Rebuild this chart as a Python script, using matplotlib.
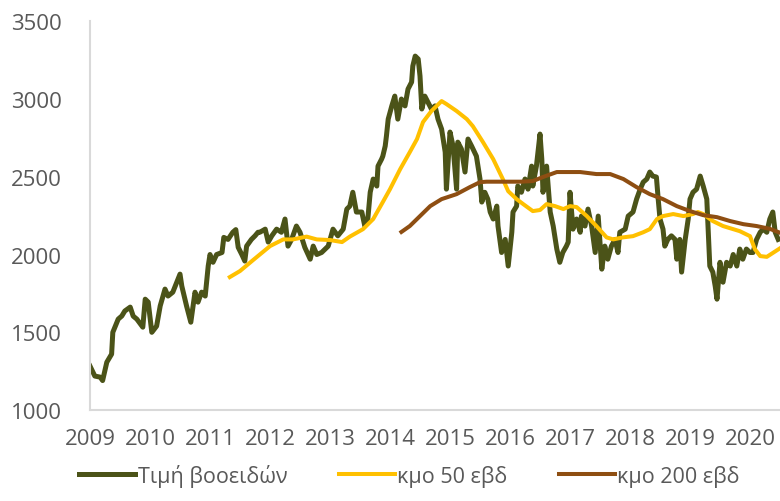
import numpy as np
import matplotlib.pyplot as plt

plt.rcParams['font.family'] = ['Open Sans', 'DejaVu Sans']

# Τιμή βοοειδών (εβδομαδιαία), χρόνος σε κλασματικά έτη
price_t = [2009.00, 2009.08, 2009.17, 2009.21, 2009.28, 2009.36, 2009.38, 2009.47, 2009.53, 2009.58,
           2009.67, 2009.72, 2009.78, 2009.88, 2009.92, 2009.97, 2010.03, 2010.11, 2010.17, 2010.25,
           2010.30, 2010.38, 2010.50, 2010.53, 2010.61, 2010.68, 2010.75, 2010.80, 2010.86, 2010.92,
           2010.97, 2011.00, 2011.05, 2011.11, 2011.20, 2011.23, 2011.30, 2011.38, 2011.43, 2011.47,
           2011.53, 2011.58, 2011.61, 2011.69, 2011.75, 2011.80, 2011.83, 2011.92, 2011.97, 2012.03,
           2012.11, 2012.19, 2012.25, 2012.30, 2012.36, 2012.44, 2012.50, 2012.58, 2012.67, 2012.72,
           2012.78, 2012.86, 2012.97, 2013.05, 2013.13, 2013.22, 2013.28, 2013.33, 2013.38, 2013.44,
           2013.53, 2013.58, 2013.63, 2013.67, 2013.72, 2013.78, 2013.80, 2013.86, 2013.88, 2013.92,
           2013.94, 2013.97, 2014.03, 2014.08, 2014.13, 2014.19, 2014.25, 2014.30, 2014.36, 2014.38,
           2014.42, 2014.47, 2014.50, 2014.53, 2014.58, 2014.63, 2014.69, 2014.75, 2014.80, 2014.86,
           2014.92, 2014.94, 2015.00, 2015.05, 2015.11, 2015.13, 2015.19, 2015.25, 2015.30, 2015.36,
           2015.44, 2015.50, 2015.53, 2015.58, 2015.63, 2015.67, 2015.72, 2015.78, 2015.80, 2015.86,
           2015.92, 2015.97, 2016.03, 2016.05, 2016.11, 2016.13, 2016.19, 2016.25, 2016.30, 2016.36,
           2016.38, 2016.44, 2016.50, 2016.53, 2016.55, 2016.61, 2016.67, 2016.72, 2016.78, 2016.83,
           2016.88, 2016.94, 2016.97, 2017.00, 2017.05, 2017.11, 2017.17, 2017.19, 2017.25, 2017.30,
           2017.36, 2017.42, 2017.47, 2017.53, 2017.58, 2017.63, 2017.69, 2017.75, 2017.80, 2017.83,
           2017.92, 2017.97, 2018.05, 2018.11, 2018.17, 2018.22, 2018.28, 2018.33, 2018.38, 2018.44,
           2018.47, 2018.50, 2018.55, 2018.58, 2018.63, 2018.69, 2018.75, 2018.78, 2018.83, 2018.86,
           2018.92, 2018.97, 2019.00, 2019.05, 2019.11, 2019.17, 2019.22, 2019.28, 2019.33, 2019.38,
           2019.42, 2019.45, 2019.50, 2019.55, 2019.61, 2019.67, 2019.72, 2019.78, 2019.83, 2019.88,
           2019.94, 2020.00, 2020.05, 2020.11, 2020.17, 2020.22, 2020.28, 2020.33, 2020.38, 2020.42,
           2020.47]
price = [1283, 1219, 1212, 1190, 1308, 1360, 1500, 1585, 1605, 1637,
         1662, 1604, 1585, 1533, 1713, 1694, 1500, 1540, 1670, 1778,
         1733, 1758, 1874, 1797, 1668, 1565, 1758, 1694, 1758, 1733,
         1926, 2000, 1950, 2000, 2013, 2110, 2097, 2143, 2160, 2046,
         2000, 1958, 2054, 2097, 2120, 2143, 2143, 2163, 2080, 2120,
         2163, 2143, 2228, 2054, 2097, 2183, 2143, 2046, 1970, 2054,
         2000, 2013, 2054, 2163, 2120, 2163, 2292, 2311, 2400, 2273,
         2273, 2183, 2228, 2400, 2485, 2440, 2568, 2613, 2632, 2697,
         2760, 2870, 2955, 3018, 2870, 2999, 2955, 3063, 3108, 3211,
         3275, 3256, 3147, 2935, 3018, 2980, 2935, 2955, 2870, 2806,
         2658, 2420, 2787, 2697, 2420, 2722, 2678, 2530, 2742, 2697,
         2632, 2485, 2337, 2400, 2356, 2273, 2228, 2311, 2183, 2013,
         2097, 1926, 2143, 2273, 2311, 2440, 2400, 2485, 2420, 2568,
         2440, 2568, 2774, 2613, 2400, 2568, 2273, 2183, 2035, 1950,
         2013, 2054, 2080, 2400, 2163, 2228, 2143, 2247, 2183, 2292,
         2183, 2013, 2247, 1906, 2054, 1970, 2054, 2097, 2013, 2143,
         2163, 2247, 2273, 2356, 2420, 2465, 2485, 2530, 2504, 2498,
         2356, 2228, 2163, 2054, 2097, 2120, 2097, 1970, 2097, 1887,
         2097, 2228, 2356, 2400, 2420, 2504, 2440, 2356, 1926, 1887,
         1797, 1713, 1950, 1822, 1950, 1926, 2000, 1926, 2035, 1970,
         2035, 2013, 2013, 2097, 2143, 2163, 2143, 2228, 2273, 2143,
         2097]

# κινητός μέσος όρος 50 εβδομάδων
ma50_t = [2011.33, 2011.50, 2011.72, 2011.83, 2012.00, 2012.22, 2012.38, 2012.61, 2012.78, 2013.00,
          2013.20, 2013.33, 2013.55, 2013.72, 2013.88, 2014.00, 2014.17, 2014.33, 2014.45, 2014.55,
          2014.69, 2014.86, 2014.94, 2015.11, 2015.28, 2015.38, 2015.55, 2015.72, 2015.88, 2015.97,
          2016.11, 2016.22, 2016.38, 2016.50, 2016.61, 2016.75, 2016.89, 2017.00, 2017.11, 2017.28,
          2017.44, 2017.61, 2017.72, 2017.88, 2018.05, 2018.22, 2018.33, 2018.45, 2018.55, 2018.72,
          2018.89, 2019.05, 2019.13, 2019.22, 2019.38, 2019.55, 2019.72, 2019.83, 2020.00, 2020.08,
          2020.17, 2020.28, 2020.50]
ma50 = [1855, 1894, 1965, 2000, 2054, 2097, 2097, 2115, 2097, 2093,
        2080, 2115, 2163, 2228, 2337, 2420, 2549, 2658, 2742, 2851,
        2922, 2986, 2967, 2922, 2870, 2825, 2722, 2613, 2485, 2407,
        2356, 2324, 2279, 2286, 2324, 2311, 2292, 2311, 2305, 2247,
        2183, 2110, 2097, 2110, 2118, 2143, 2163, 2228, 2247, 2260,
        2247, 2260, 2273, 2260, 2215, 2183, 2163, 2150, 2118, 2035,
        1990, 1985, 2040]

# κινητός μέσος όρος 200 εβδομάδων
ma200_t = [2014.19, 2014.33, 2014.50, 2014.67, 2014.86, 2015.11, 2015.33, 2015.50, 2015.61, 2015.89,
           2016.17, 2016.38, 2016.55, 2016.78, 2017.00, 2017.17, 2017.44, 2017.67, 2017.89, 2018.11,
           2018.33, 2018.55, 2018.78, 2019.00, 2019.22, 2019.45, 2019.67, 2019.89, 2020.11, 2020.33,
           2020.50]
ma200 = [2145, 2183, 2247, 2311, 2356, 2388, 2433, 2465, 2468, 2468,
         2468, 2472, 2498, 2530, 2530, 2530, 2517, 2517, 2485, 2433,
         2388, 2356, 2311, 2279, 2253, 2240, 2215, 2195, 2183, 2165,
         2140]

years = list(range(2009, 2021))
labels = ['Τιμή βοοειδών', 'κμο 50 εβδ', 'κμο 200 εβδ']

fig = plt.figure(figsize=(7.8, 5.02), dpi=100)
ax = fig.add_axes([0.1154, 0.181, 0.8846, 0.775])

ax.plot(price_t, price, color='#4B5318', lw=3.6, solid_joinstyle='round', label=labels[0])
ax.plot(ma50_t, ma50, color='#FFC000', lw=2.9, solid_joinstyle='round', label=labels[1])
ax.plot(ma200_t, ma200, color='#8E4E12', lw=2.9, solid_joinstyle='round', label=labels[2])

ax.set_xlim(2009, 2020.5)
ax.set_ylim(1000, 3500)
ax.set_xticks(years)
ax.set_xticklabels([str(y) for y in years])
ax.set_yticks(np.arange(1000, 3501, 500))

for s in ['top', 'right']:
    ax.spines[s].set_visible(False)
for s in ['left', 'bottom']:
    ax.spines[s].set_color('#D9D9D9')
    ax.spines[s].set_linewidth(1.5)

ax.tick_params(axis='both', length=0, labelsize=16, labelcolor='#595959')
ax.tick_params(axis='y', pad=20)
ax.tick_params(axis='x', pad=13)

fig.legend(loc='lower center', bbox_to_anchor=(0.525, -0.01), ncol=3, frameon=False,
           fontsize=15.5, labelcolor='#595959', handlelength=2.6, handletextpad=0.1,
           columnspacing=2.4)

fig.savefig('out.png', dpi=100)
